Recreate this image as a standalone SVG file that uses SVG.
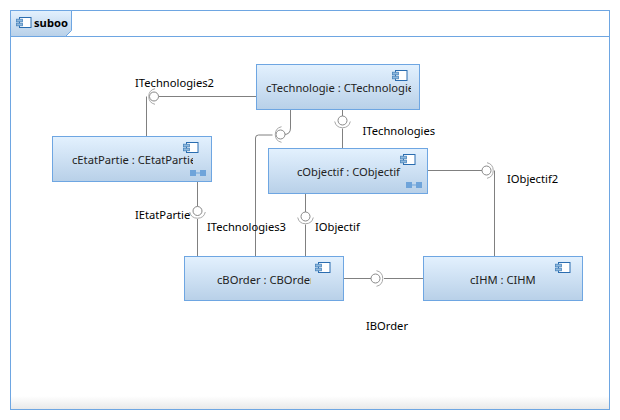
<svg xmlns="http://www.w3.org/2000/svg" width="620" height="420" viewBox="0 0 620 420">
<style>
text{font-family:"Noto Sans","Open Sans","DejaVu Sans",sans-serif;font-size:11.2px;fill:#000}
.nl{fill:#222}
.node{fill:url(#ng);stroke:#6ea6e2;stroke-width:1}
.wire{fill:none;stroke:#808080;stroke-width:1}
.ball{fill:#fff;stroke:#888;stroke-width:1}
.sock{fill:none;stroke:#a8a8a8;stroke-width:1}
.ib{fill:#fff;stroke:#2a6db0;stroke-width:1}
.it{fill:#8fb8dc;stroke:#4a86bd;stroke-width:.8}
.pt{fill:#6fa4da}
</style>
<defs>
<linearGradient id="ng" x1="0" y1="0" x2="0" y2="1"><stop offset="0" stop-color="#e3f1fe"/><stop offset="1" stop-color="#b8d0e8"/></linearGradient>
<linearGradient id="fg" x1="0" y1="0" x2="0" y2="1"><stop offset="0" stop-color="#fff"/><stop offset="1" stop-color="#e9e9e9"/></linearGradient>
<g id="ic"><rect class="ib" x="3" y="0" width="11.5" height="10"/><rect class="it" x="0" y="1.7" width="6" height="2.6"/><rect class="it" x="0" y="5.7" width="6" height="2.6"/></g>
<g id="pt"><rect class="pt" x="0" y="0" width="6" height="6"/><rect class="pt" x="10" y="0" width="6" height="6"/><rect class="pt" x="5" y="2.500" width="6" height="1"/></g>
<clipPath id="c1"><rect x="258" y="66" width="153" height="42"/></clipPath>
<clipPath id="c2"><rect x="270" y="150" width="131" height="42"/></clipPath>
<clipPath id="c3"><rect x="54" y="138" width="139" height="42"/></clipPath>
<clipPath id="c4"><rect x="186" y="258" width="125" height="42"/></clipPath>
</defs>
<g id="frame">
<rect x="10.500" y="10.500" width="599" height="399" fill="#fff"/>
<rect x="11" y="396" width="598" height="13" fill="url(#fg)"/>
<rect x="10.500" y="10.500" width="599" height="399" fill="none" stroke="#6ea6e2"/>
<path d="M10.500 36.500H609.500" stroke="#6ea6e2" fill="none"/>
<path d="M10.500 10.500H71.500V30.500L65.500 36.500H10.500Z" fill="url(#ng)" stroke="#6ea6e2"/>
<use href="#ic" transform="translate(16.500 17.500)"/>
<text x="34" y="27" style="font-weight:700">suboo</text>
</g>
<g id="connectors">
<path class="wire" d="M256 96.500H158.500"/>
<path class="wire" d="M146.500 136V96.500"/>
<circle class="ball" cx="154" cy="96.500" r="4.500"/>
<path class="sock" d="M155 88.700A8 8 0 0 0 155 104.300"/>
<path class="wire" d="M290.500 109V128Q290.500 134.500 284 134.500H285"/>
<circle class="ball" cx="280.500" cy="134.500" r="4.500"/>
<path class="sock" d="M281.500 126.700A8 8 0 0 0 281.500 142.300"/>
<path class="wire" d="M272.500 135H258.500Q255.500 135 255.500 138V256"/>
<path class="wire" d="M342.500 109V116"/>
<circle class="ball" cx="342.500" cy="120.500" r="4.500"/>
<path class="sock" d="M334.700 121.500A8 8 0 0 0 350.300 121.500"/>
<path class="wire" d="M342.500 128.500V148"/>
<path class="wire" d="M197.500 182V206.500"/>
<circle class="ball" cx="197.500" cy="211" r="4.500"/>
<path class="sock" d="M189.700 212A8 8 0 0 0 205.300 212"/>
<path class="wire" d="M197.500 219V256"/>
<path class="wire" d="M305.500 193V212"/>
<circle class="ball" cx="305.500" cy="216.500" r="4.500"/>
<path class="sock" d="M297.700 217.500A8 8 0 0 0 313.300 217.500"/>
<path class="wire" d="M305.500 224.500V256"/>
<path class="wire" d="M344 278.500H371"/>
<circle class="ball" cx="375.500" cy="278.500" r="4.500"/>
<path class="sock" d="M376.500 270.700A8 8 0 0 1 376.500 286.300"/>
<path class="wire" d="M384 278.500H423"/>
<path class="wire" d="M428 170.500H482.500"/>
<circle class="ball" cx="486.500" cy="170.500" r="4.500"/>
<path class="sock" d="M487 162.700A8 8 0 0 1 487 178.300"/>
<path class="wire" d="M494.500 170.500V256"/>
</g>
<g id="cTechnologie">
<rect class="node" x="256.500" y="64.500" width="163" height="45"/>
<use href="#ic" transform="translate(392.500 70.500)"/>
<text class="nl" x="266" y="92" clip-path="url(#c1)">cTechnologie : CTechnologie</text>
</g>
<g id="cObjectif">
<rect class="node" x="268.500" y="148.500" width="159" height="45"/>
<use href="#ic" transform="translate(400.500 154.500)"/>
<use href="#pt" transform="translate(406 182)"/>
<text class="nl" x="297" y="176" clip-path="url(#c2)">cObjectif : CObjectif</text>
</g>
<g id="cEtatPartie">
<rect class="node" x="52.500" y="136.500" width="159" height="45"/>
<use href="#ic" transform="translate(183.500 142.500)"/>
<use href="#pt" transform="translate(190 170)"/>
<text class="nl" x="72" y="164" clip-path="url(#c3)">cEtatPartie : CEtatPartie</text>
</g>
<g id="cBOrder">
<rect class="node" x="184.500" y="256.500" width="159" height="44"/>
<use href="#ic" transform="translate(315.500 262.500)"/>
<text class="nl" x="217" y="284" clip-path="url(#c4)">cBOrder : CBOrder</text>
</g>
<g id="cIHM">
<rect class="node" x="423.500" y="256.500" width="159" height="44"/>
<use href="#ic" transform="translate(555.500 262.500)"/>
<text class="nl" x="470" y="284">cIHM : CIHM</text>
</g>
<g id="labels">
<text x="135" y="87">ITechnologies2</text>
<text x="362.500" y="135">ITechnologies</text>
<text x="135" y="219">IEtatPartie</text>
<text x="207" y="231">ITechnologies3</text>
<text x="315" y="231">IObjectif</text>
<text x="507" y="183">IObjectif2</text>
<text x="366" y="330">IBOrder</text>
</g>
</svg>
